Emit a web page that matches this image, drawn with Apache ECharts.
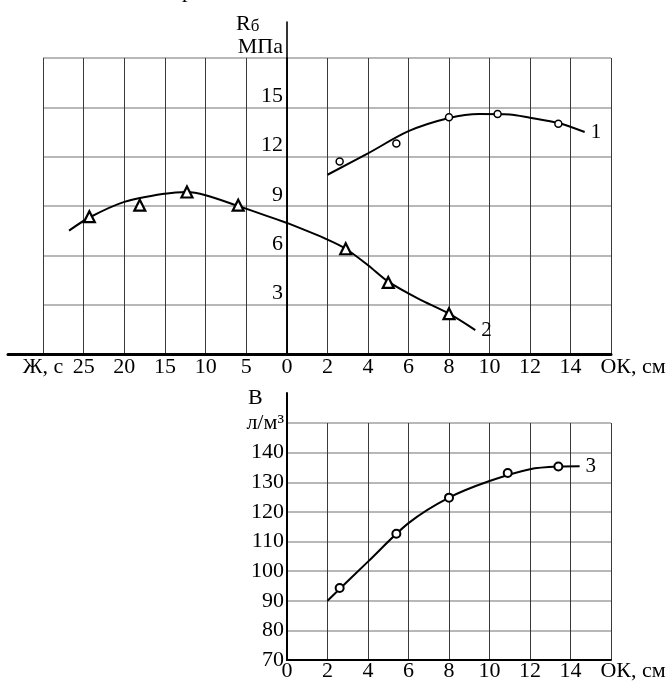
<!DOCTYPE html>
<html><head><meta charset="utf-8">
<script src="https://cdn.jsdelivr.net/npm/echarts@6/dist/echarts.min.js"></script>
<style>html,body{margin:0;padding:0;background:#fff}#c{width:670px;height:682px}</style>
</head><body><div id="c"></div><script>
const FONT = 'Liberation Serif';
// ---- Top panel: Rб (MPa) ----
// Curve 1: Rб vs ОК (cm)
const curve1OK = [2.0, 4.0, 6.0, 8.0, 9.5, 11.0, 12.0, 13.4, 14.7];
const curve1R  = [10.9, 12.2, 13.55, 14.35, 14.6, 14.57, 14.37, 14.05, 13.5];
const pts1OK   = [2.6, 5.4, 8.0, 10.4, 13.4];
const pts1R    = [11.7, 12.8, 14.4, 14.6, 14.0];
// Curve 2, left branch: Rб vs Ж (s)
const curve2Zh  = [26.8, 24.3, 20, 15, 12.3, 10, 6, 2.5, 0];
const curve2ZhR = [7.5, 8.3, 9.25, 9.75, 9.85, 9.65, 9.0, 8.4, 7.97];
const pts2Zh    = [24.3, 18.1, 12.3, 6.0];
const pts2ZhR   = [8.35, 9.05, 9.85, 9.05];
// Curve 2, right branch: Rб vs ОК (cm)
const curve2OK  = [0, 2, 2.9, 4, 5, 6.5, 8, 9.3];
const curve2OKR = [7.97, 6.96, 6.4, 5.4, 4.4, 3.35, 2.45, 1.45];
const pts2OK    = [2.9, 5.0, 8.0];
const pts2OKR   = [6.4, 4.35, 2.45];
// ---- Bottom panel: В (л/м3) vs ОК (cm) ----
const curve3OK = [2.0, 4.0, 6.0, 8.0, 10.0, 12.0, 13.4, 14.45];
const curve3B  = [90, 103.2, 116.2, 124.8, 130.4, 134.4, 135.3, 135.4];
const pts3OK   = [2.6, 5.4, 8.0, 10.9, 13.4];
const pts3B    = [94.3, 112.6, 124.8, 133.1, 135.3];

const zip = (a, b) => a.map((v, i) => [v, b[i]]);
const hLine = { show: true, lineStyle: { color: '#a0a0a0', width: 1.6 } };
const vLine = { show: true, lineStyle: { color: '#3a3a3a', width: 1 } };
const lbl = { fontFamily: FONT, fontSize: 22, color: '#000' };
const lineSeries = (xi, yi, data, name) => ({
  type: 'line', xAxisIndex: xi, yAxisIndex: yi, data: data, smooth: 0.3,
  showSymbol: false, symbol: 'none', lineStyle: { color: '#000', width: 2 },
  endLabel: name ? { show: true, formatter: name, fontFamily: FONT, fontSize: 21, color: '#000', distance: 6 } : undefined,
  silent: true, z: 3
});
const circ = (xi, yi, data, size, bw) => ({
  type: 'scatter', xAxisIndex: xi, yAxisIndex: yi, data: data, symbol: 'circle', symbolSize: size,
  itemStyle: { color: '#fff', borderColor: '#000', borderWidth: bw, opacity: 1 }, z: 4
});
const tri = (xi, yi, data) => ({
  type: 'scatter', xAxisIndex: xi, yAxisIndex: yi, data: data, symbol: 'triangle', symbolSize: 11,
  itemStyle: { color: '#fff', borderColor: '#000', borderWidth: 2.2, opacity: 1 }, z: 4
});
const lineOnly = (w) => ({ show: true, lineStyle: { color: '#000', width: w } });
const off = { show: false };

const option = {
  animation: false,
  backgroundColor: '#fff',
  grid: [
    { left: 43, top: 58, width: 244, height: 296 },   // 0 top-left (Ж)
    { left: 287, top: 58, width: 324, height: 296 },  // 1 top-right (ОК)
    { left: 8, top: 58, width: 603, height: 296 },    // 2 top x-axis line
    { left: 287, top: 22, width: 324, height: 332 },  // 3 top y-axis line
    { left: 287, top: 423, width: 324, height: 237 }, // 4 bottom
    { left: 287, top: 393, width: 324, height: 267 }  // 5 bottom y-axis line
  ],
  xAxis: [
    { gridIndex: 0, type: 'value', min: 0, max: 30, interval: 5, inverse: true,
      axisLine: off, axisTick: off, splitLine: vLine,
      axisLabel: Object.assign({ margin: 2, formatter: v => v === 0 ? '' : (v === 30 ? 'Ж, с' : String(v)) }, lbl) },
    { gridIndex: 1, type: 'value', min: 0, max: 16, interval: 2,
      axisLine: off, axisTick: off, splitLine: vLine,
      axisLabel: Object.assign({ margin: 2, formatter: v => v === 16 ? '{u|ОК, см}' : String(v),
        rich: { u: { fontFamily: FONT, fontSize: 22, color: '#000', padding: [0, 0, 0, 44] } } }, lbl) },
    { gridIndex: 2, type: 'value', min: 0, max: 1, axisLine: lineOnly(3), axisTick: off, axisLabel: off, splitLine: off },
    { gridIndex: 3, type: 'value', min: 0, max: 1, show: false },
    { gridIndex: 4, type: 'value', min: 0, max: 16, interval: 2,
      axisLine: lineOnly(2), axisTick: off, splitLine: vLine,
      axisLabel: Object.assign({ margin: 0, formatter: v => v === 16 ? '{u|ОК, см}' : String(v),
        rich: { u: { fontFamily: FONT, fontSize: 22, color: '#000', padding: [0, 0, 0, 44] } } }, lbl) },
    { gridIndex: 5, type: 'value', min: 0, max: 1, show: false }
  ],
  yAxis: [
    { gridIndex: 0, type: 'value', min: 0, max: 18, interval: 3,
      axisLine: off, axisTick: off, axisLabel: off, splitLine: hLine },
    { gridIndex: 1, type: 'value', min: 0, max: 18, interval: 3,
      axisLine: lineOnly(1.6), axisTick: off, splitLine: hLine,
      axisLabel: Object.assign({ margin: 4, verticalAlign: 'bottom',
        formatter: v => v === 0 ? '' : (v === 18 ? 'МПа' : String(v)) }, lbl) },
    { gridIndex: 2, type: 'value', min: 0, max: 1, show: false },
    { gridIndex: 3, type: 'value', min: 0, max: 1, axisLine: lineOnly(1.6), axisTick: off, axisLabel: off, splitLine: off },
    { gridIndex: 4, type: 'value', min: 70, max: 150, interval: 10,
      axisLine: lineOnly(2), axisTick: off, splitLine: hLine,
      axisLabel: Object.assign({ margin: 3,
        formatter: v => v === 150 ? 'л/м³' : String(v) }, lbl) },
    { gridIndex: 5, type: 'value', min: 0, max: 1, axisLine: lineOnly(2), axisTick: off, axisLabel: off, splitLine: off }
  ],
  graphic: [
    { type: 'text', left: 182, top: -20, style: { text: 'р', font: '22px "Liberation Serif"', fill: '#000' } },
    { type: 'text', left: 236, top: 13, style: { text: '{a|R}{b|б}', fill: '#000',
        rich: { a: { fontFamily: FONT, fontSize: 22, color: '#000' }, b: { fontFamily: FONT, fontSize: 17, color: '#000', verticalAlign: 'bottom' } } } },
    { type: 'text', left: 248, top: 387, style: { text: 'В', font: '22px "Liberation Serif"', fill: '#000' } }
  ],
  series: [
    lineSeries(1, 1, zip(curve1OK, curve1R), '1'),
    circ(1, 1, zip(pts1OK, pts1R), 7, 1.5),
    lineSeries(0, 0, zip(curve2Zh, curve2ZhR), null),
    tri(0, 0, zip(pts2Zh, pts2ZhR)),
    lineSeries(1, 1, zip(curve2OK, curve2OKR), '2'),
    tri(1, 1, zip(pts2OK, pts2OKR)),
    lineSeries(4, 4, zip(curve3OK, curve3B), '3'),
    circ(4, 4, zip(pts3OK, pts3B), 8, 2)
  ]
};
echarts.init(document.getElementById('c'), null, { renderer: 'canvas' }).setOption(option);
</script></body></html>
